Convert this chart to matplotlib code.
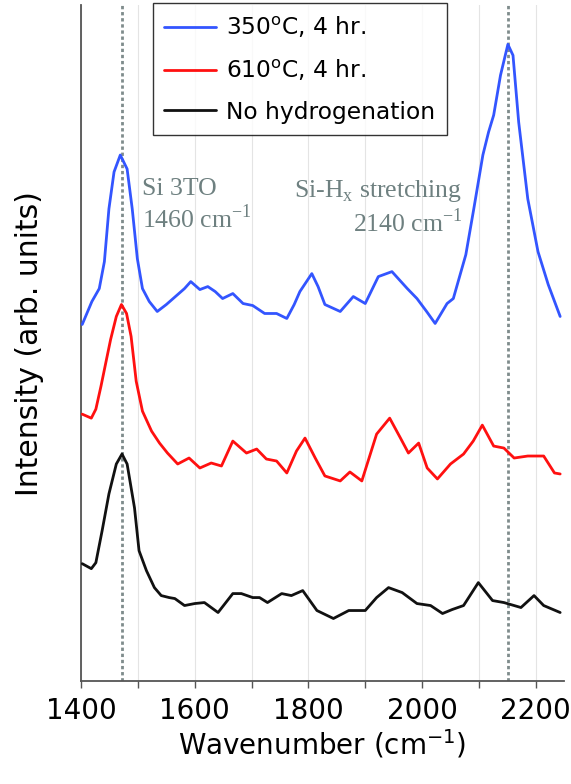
import numpy as np
import matplotlib
matplotlib.use('Agg')
import matplotlib.pyplot as plt
from matplotlib.ticker import MultipleLocator

plt.rcParams['font.family'] = 'DejaVu Sans'

# readings from the picture, intensity in arbitrary units (offset stacked)
wn_350 = [1402, 1419, 1432, 1441, 1449, 1458, 1469, 1481, 1490, 1499,
          1508, 1520, 1534, 1550, 1570, 1582, 1593, 1609, 1623, 1636,
          1649, 1667, 1685, 1702, 1723, 1744, 1762, 1775, 1785, 1806,
          1817, 1829, 1856, 1879, 1900, 1923, 1947, 1974, 1991, 2008,
          2023, 2044, 2055, 2077, 2091, 2107, 2117, 2126, 2138, 2151,
          2160, 2170, 2186, 2204, 2222, 2243]
int_350 = [377, 400, 413, 440, 493, 530, 547, 533, 493, 443,
           413, 400, 390, 397, 407, 413, 420, 412, 415, 410,
           403, 408, 398, 396, 388, 388, 383, 397, 410, 428,
           415, 397, 390, 405, 398, 425, 430, 413, 403, 390,
           378, 398, 403, 447, 493, 547, 570, 587, 627, 658,
           647, 580, 503, 450, 417, 385]

wn_610 = [1402, 1418, 1426, 1435, 1444, 1452, 1462, 1471, 1480, 1488,
          1497, 1508, 1524, 1538, 1552, 1570, 1590, 1609, 1629, 1647,
          1667, 1691, 1709, 1726, 1744, 1762, 1779, 1794, 1812, 1829,
          1856, 1873, 1894, 1920, 1943, 1962, 1976, 1994, 2009, 2027,
          2050, 2073, 2090, 2106, 2126, 2144, 2162, 2186, 2214, 2233, 2243]
int_610 = [287, 283, 292, 315, 340, 362, 385, 397, 388, 365,
           320, 290, 270, 258, 248, 237, 243, 233, 238, 235,
           260, 248, 252, 242, 240, 228, 250, 263, 243, 225,
           220, 229, 220, 267, 283, 263, 248, 258, 233, 222,
           237, 247, 260, 276, 255, 253, 243, 245, 245, 228, 227]

wn_none = [1402, 1418, 1426, 1437, 1449, 1462, 1472, 1481, 1494, 1502,
           1515, 1529, 1541, 1555, 1565, 1582, 1600, 1617, 1641, 1667,
           1682, 1702, 1714, 1728, 1753, 1770, 1790, 1815, 1844, 1871,
           1900, 1920, 1941, 1965, 1991, 2015, 2036, 2053, 2073, 2099,
           2124, 2144, 2174, 2197, 2214, 2243]
int_none = [137, 132, 138, 170, 207, 237, 247, 237, 193, 150,
            130, 113, 105, 103, 102, 95, 97, 98, 88, 107,
            107, 103, 103, 98, 107, 105, 110, 90, 82, 90,
            90, 103, 113, 108, 97, 95, 87, 91, 95, 118,
            100, 98, 93, 105, 95, 88]

peak_lines = [1472, 2152]

fig = plt.figure(figsize=(5.71, 7.84), dpi=100)
ax = fig.add_axes([0.142, 0.131, 0.846, 0.862])

ax.set_xlim(1400, 2250)
ax.set_ylim(19, 697)

ax.xaxis.set_major_locator(MultipleLocator(200))
ax.xaxis.set_minor_locator(MultipleLocator(100))
ax.grid(True, which='both', axis='x', color='#e4e4e4', linewidth=0.8)
ax.set_axisbelow(True)
ax.set_yticks([])

for x in peak_lines:
    ax.axvline(x, color='#7f8c8c', linestyle=(0, (1.2, 1.0)), linewidth=2.0, zorder=1)

ax.plot(wn_350, int_350, color='#3355ff', linewidth=2.0, solid_joinstyle='round',
        solid_capstyle='round', label='350$^{\\rm o}$C, 4 hr.', zorder=3)
ax.plot(wn_610, int_610, color='#ff1010', linewidth=2.0, solid_joinstyle='round',
        solid_capstyle='round', label='610$^{\\rm o}$C, 4 hr.', zorder=3)
ax.plot(wn_none, int_none, color='#111111', linewidth=2.0, solid_joinstyle='round',
        solid_capstyle='round', label='No hydrogenation', zorder=3)

for s in ['top', 'right']:
    ax.spines[s].set_visible(False)
for s in ['left', 'bottom']:
    ax.spines[s].set_color('#555555')
    ax.spines[s].set_linewidth(1.3)

ax.tick_params(axis='x', which='both', direction='out', length=5, width=1, color='#555555',
               labelsize=20, pad=6)
ax.set_xlabel('Wavenumber (cm$^{\\mathsf{-1}}$)', fontsize=20, labelpad=2)
ax.set_ylabel('Intensity (arb. units)', fontsize=21.5, labelpad=27)

leg = ax.legend(loc='upper center', bbox_to_anchor=(0.453, 1.003), fontsize=16.8,
                frameon=True, fancybox=False, handlelength=2.2, borderpad=0.5,
                labelspacing=0.75, handletextpad=0.45, borderaxespad=0.0)
leg.get_frame().set_edgecolor('black')
leg.get_frame().set_linewidth(1.0)

note_color = '#6e8080'
ax.text(1508, 524, 'Si 3TO\n1460 cm$^{\\mathregular{-1}}$', family='Liberation Serif',
        fontsize=18.5, color=note_color, ha='left', va='top', linespacing=1.2)
ax.text(2071, 524, 'Si-H$_{\\mathregular{x}}$ stretching\n2140 cm$^{\\mathregular{-1}}$',
        family='Liberation Serif', fontsize=18.5, color=note_color, ha='right', va='top',
        linespacing=1.2)

fig.savefig('out.png', dpi=100)
